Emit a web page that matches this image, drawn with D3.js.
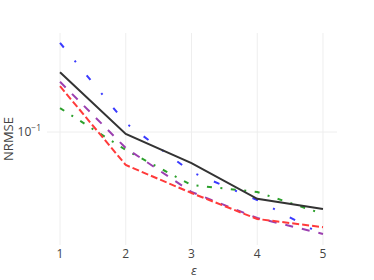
<!DOCTYPE html>
<html>
<head>
<meta charset="utf-8">
<script src="https://cdn.jsdelivr.net/npm/d3@7"></script>
<style>
  body { margin: 0; background: #fff; }
  text { font-family: "Open Sans", "Liberation Sans", sans-serif; fill: #444; }
</style>
</head>
<body>
<div id="chart"></div>
<script>
// eps values on the x axis
var epsilons = [1, 2, 3, 4, 5];
var xTicks = [1, 2, 3, 4, 5];
var yTicks = [0.1];

// NRMSE per method
var blackVals  = [0.200, 0.0977, 0.0698, 0.0461, 0.0410];
var blueVals   = [0.281, 0.111, 0.0629, 0.0455, 0.0303];
var redVals    = [0.170, 0.0682, 0.0493, 0.0365, 0.0332];
var purpleVals = [0.179, 0.0831, 0.0499, 0.0369, 0.0307];
var greenVals  = [0.132, 0.0812, 0.0541, 0.0499, 0.0387];

var series = [
  { vals: greenVals,  color: "#2ca02c", dash: "5,8.5,2,8.5" },
  { vals: blueVals,   color: "#3a3aff", dash: "6,17,2,17" },
  { vals: purpleVals, color: "#9b3fb0", dash: "8,9" },
  { vals: redVals,    color: "#ff3a3a", dash: "7,3" },
  { vals: blackVals,  color: "#333333", dash: null }
];

var W = 374, H = 280;
var margin = { top: 33, right: 37, bottom: 35, left: 47 };
var width = W - margin.left - margin.right;
var height = H - margin.top - margin.bottom;

var svg = d3.select("#chart").append("svg")
    .attr("width", W)
    .attr("height", H);

var x = d3.scaleLinear().domain([0.802, 5.213]).range([0, width]);
var y = d3.scaleLog().domain([0.027, 0.315]).range([height, 0]);

var g = svg.append("g").attr("transform", "translate(" + margin.left + "," + margin.top + ")");

// grid
g.selectAll(".vgrid").data(xTicks).enter().append("line")
    .attr("x1", d => x(d)).attr("x2", d => x(d))
    .attr("y1", 0).attr("y2", height)
    .attr("stroke", "#eeeeee").attr("stroke-width", 1);
g.selectAll(".hgrid").data(yTicks).enter().append("line")
    .attr("x1", 0).attr("x2", width)
    .attr("y1", d => y(d)).attr("y2", d => y(d))
    .attr("stroke", "#eeeeee").attr("stroke-width", 1);

// lines
var line = d3.line()
    .x((d, i) => x(epsilons[i]))
    .y(d => y(d));

series.forEach(function(s) {
  g.append("path")
    .datum(s.vals)
    .attr("d", line)
    .attr("fill", "none")
    .attr("stroke", s.color)
    .attr("stroke-width", 2)
    .attr("stroke-dasharray", s.dash);
});

// x tick labels
g.selectAll(".xt").data(xTicks).enter().append("text")
    .attr("x", d => x(d))
    .attr("y", height + 13)
    .attr("text-anchor", "middle")
    .style("font-size", "12px")
    .text(d => d);

// y tick labels
var yt = g.selectAll(".yt").data(yTicks).enter().append("text")
    .attr("x", -6)
    .attr("y", d => y(d) + 4)
    .attr("text-anchor", "end")
    .style("font-size", "12px");
yt.append("tspan").text("10");
yt.append("tspan").attr("dy", -5).style("font-size", "8.5px").text("\u22121");

// axis titles
svg.append("text")
    .attr("x", margin.left + width / 2 + 2)
    .attr("y", 275)
    .attr("text-anchor", "middle")
    .style("font-size", "13px")
    .style("font-style", "italic")
    .text("\u03b5");

svg.append("text")
    .attr("transform", "translate(13," + (margin.top + height / 2) + ") rotate(-90)")
    .attr("text-anchor", "middle")
    .style("font-size", "13px")
    .text("NRMSE");
</script>
</body>
</html>
